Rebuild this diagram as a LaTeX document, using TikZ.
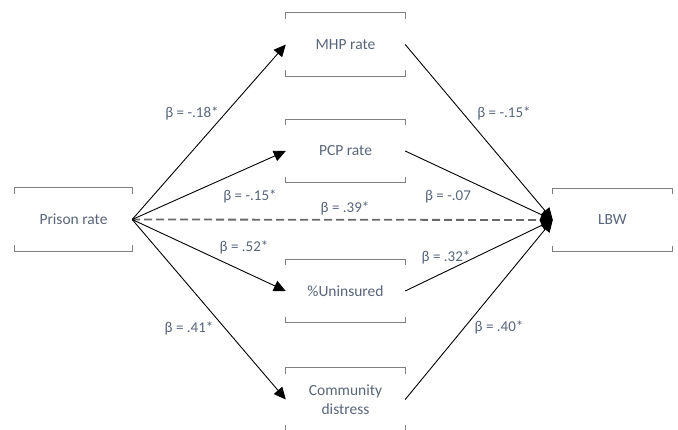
\documentclass[tikz,border=0pt]{standalone}
\usepackage{fontspec}
\setmainfont{Carlito}
\usetikzlibrary{arrows.meta}
\definecolor{txtslate}{RGB}{88,101,122}
\definecolor{framegray}{RGB}{128,128,128}
\definecolor{dashgray}{RGB}{105,105,105}
\tikzset{
  var/.style={minimum width=119pt, minimum height=63pt, inner sep=0pt,
    align=center, text=txtslate, font=\fontsize{15.5}{19}\selectfont},
  coef/.style={text=txtslate, inner sep=1pt, font=\fontsize{15}{18}\selectfont},
  path/.style={black, line width=0.9pt, -{Triangle[length=12pt,width=11pt]}},
  direct/.style={dashgray, line width=1.8pt, dash pattern=on 8pt off 4pt,
    -{Triangle[length=12pt,width=11pt]}},
  frame/.style={framegray, line width=1.1pt}
}
% open bracket frame: ticks hang from the top edge and rise from the bottom edge
\newcommand{\boxbrackets}[1]{%
  \draw[frame] ([yshift=-6pt]#1.north west) -- (#1.north west) -- (#1.north east) -- ([yshift=-6pt]#1.north east);
  \draw[frame] ([yshift=6pt]#1.south west) -- (#1.south west) -- (#1.south east) -- ([yshift=6pt]#1.south east);}
\begin{document}
\begin{tikzpicture}[x=1pt,y=-1pt]
\useasboundingbox (0,0) rectangle (678,429);

\node[var, minimum width=117pt] (prison) at (73.5,219.5) {Prison rate};
\node[var] (mhp) at (345.5,44.5) {MHP rate};
\node[var] (pcp) at (345.5,151) {PCP rate};
\node[var] (unins) at (345.5,291) {\%Uninsured};
\node[var] (distress) at (345.5,399.5) {Community\\distress};
\node[var] (lbw) at (612.5,220) {LBW};

\foreach \n in {prison,mhp,pcp,unins,distress,lbw}{\boxbrackets{\n}}

% total effect
\draw[direct] (prison.east) -- (lbw.west);

% exposure to mediators
\draw[path] (prison.east) -- (mhp.west);
\draw[path] (prison.east) -- (pcp.west);
\draw[path] (prison.east) -- (unins.west);
\draw[path] (prison.east) -- (distress.west);

% mediators to outcome
\draw[path] (mhp.east) -- (lbw.west);
\draw[path] (pcp.east) -- (lbw.west);
\draw[path] (unins.east) -- (lbw.west);
\draw[path] (distress.east) -- (lbw.west);

% coefficients
\node[coef] (a1) at (192,113) {β = -.18*};
\node[coef] (a2) at (250,196) {β = -.15*};
\node[coef] (c0) at (345,208) {β = .39*};
\node[coef] (a3) at (244,247) {β = .52*};
\node[coef] (a4) at (189,328) {β = .41*};
\node[coef] (b1) at (504,113) {β = -.15*};
\node[coef] (b2) at (448,197) {β = -.07};
\node[coef] (b3) at (446,257) {β = .32*};
\node[coef] (b4) at (499,327) {β = .40*};
\end{tikzpicture}
\end{document}
